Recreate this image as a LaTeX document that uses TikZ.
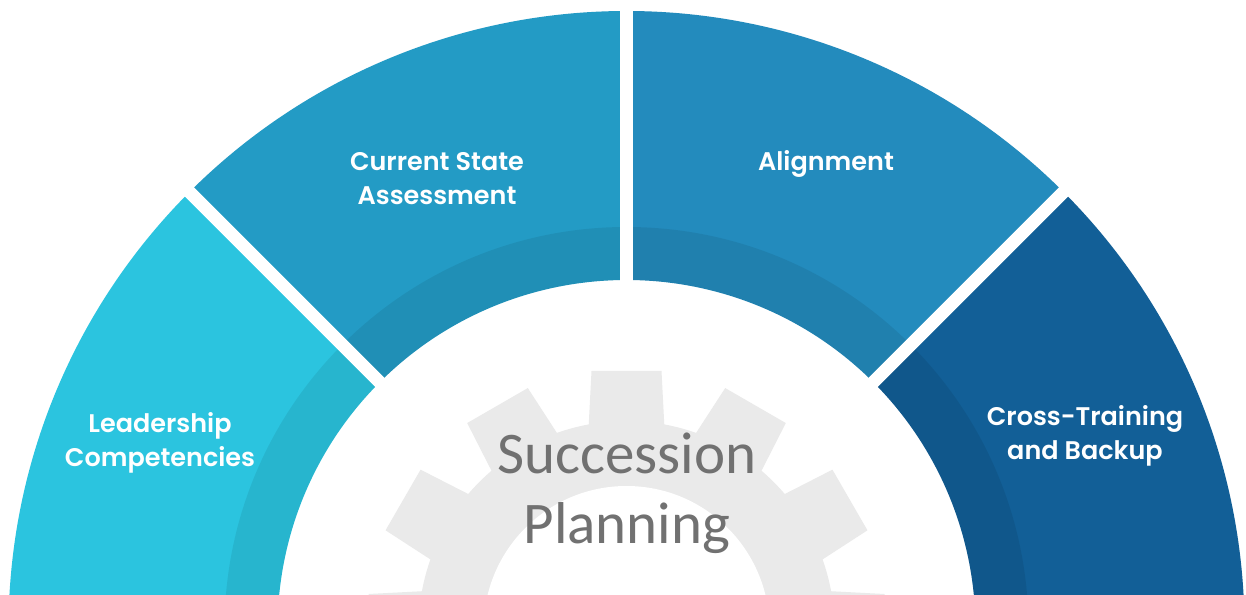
\documentclass[tikz,border=0pt]{standalone}
\usepackage{fontspec}
\setmainfont{Carlito}
\newfontfamily\labelfont{Poppins SemiBold}
\usetikzlibrary{calc}
\definecolor{segA}{HTML}{2BC4DF}
\definecolor{segB}{HTML}{239BC5}
\definecolor{segC}{HTML}{238BBD}
\definecolor{segD}{HTML}{125F97}
\definecolor{gearc}{HTML}{EAEAEA}
\definecolor{titlec}{HTML}{717171}
\begin{document}
\begin{tikzpicture}[x=1pt,y=1pt,
  seglabel/.style={text=white, align=center, font=\labelfont\fontsize{25.5}{34}\selectfont},
  titlelabel/.style={text=titlec, align=center, font=\fontsize{59}{70}\selectfont}]
  % canvas
  \path[use as bounding box] (0,0) rectangle (1246,594);
  \clip (0,0) rectangle (1246,594);
  \fill[white] (0,0) rectangle (1246,594);
  \begin{scope}[shift={(626.5,-35)}]
    % gear behind the title
    \fill[gearc] (0,0) circle (208);
    \foreach \a in {0,30,...,330}
      \fill[gearc, rotate=\a] (-38,200) -- (-35,258) -- (35,258) -- (38,200) -- cycle;
    \fill[white] (0,0) circle (143);
    % four ring segments
    \foreach \s/\e/\c in {135/180/segA, 90/135/segB, 45/90/segC, 0/45/segD}
      \fill[\c] (\s:618) arc[start angle=\s, end angle=\e, radius=618]
        -- (\e:349) arc[start angle=\e, end angle=\s, radius=349] -- cycle;
    % darker inner band
    \fill[black, opacity=0.075, even odd rule] (0,0) circle (402) (0,0) circle (349);
    % white separators
    \foreach \a in {45,90,135}
      \draw[white, line width=13] (\a:340) -- (\a:660);
  \end{scope}
  % labels
  \node[seglabel] (lead) at (160,151) {Leadership\\Competencies};
  \node[seglabel] (curr) at (437,415) {Current State\\Assessment};
  \node[seglabel] (align) at (826,430) {Alignment};
  \node[seglabel] (cross) at (1085,158) {Cross-Training\\and Backup};
  \node[titlelabel] (title) at (627,101) {Succession\\Planning};
\end{tikzpicture}
\end{document}
